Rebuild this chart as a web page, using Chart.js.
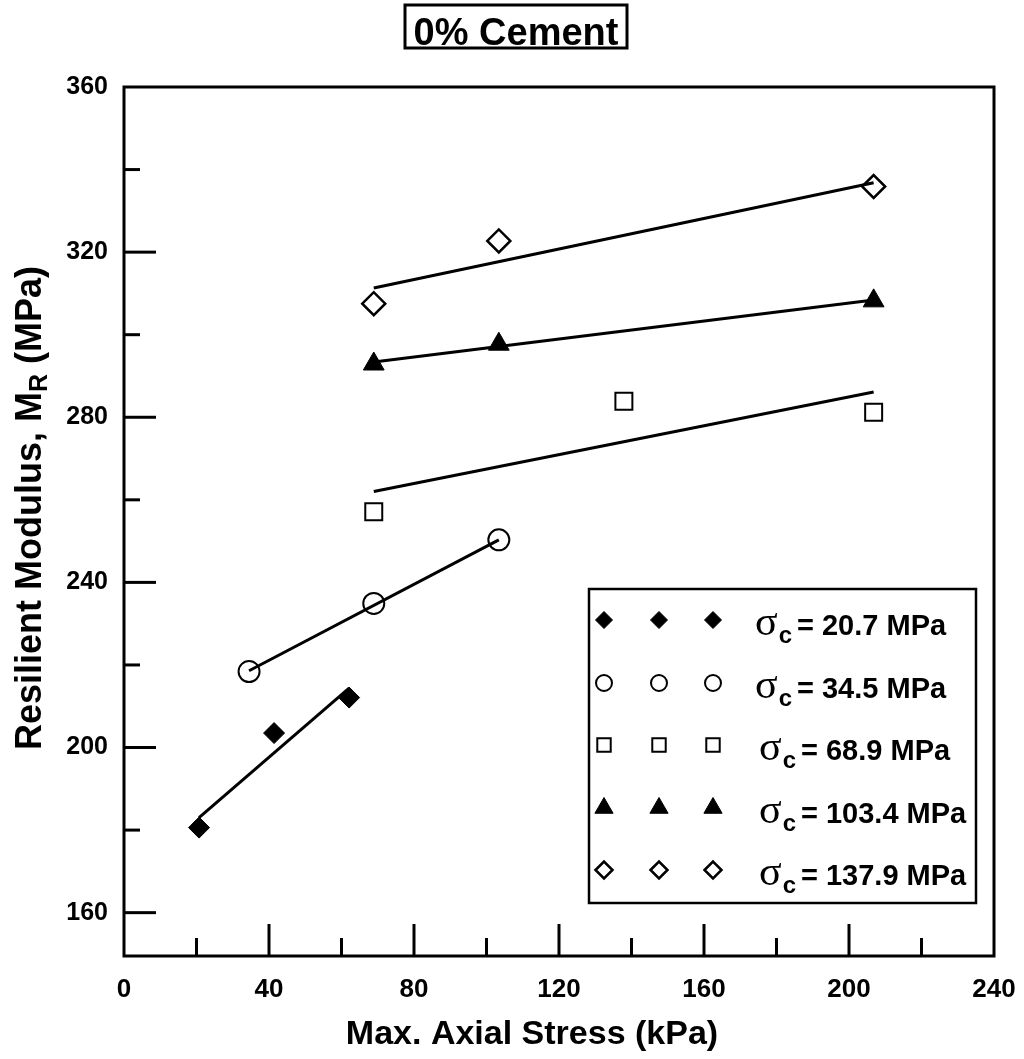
<!DOCTYPE html>
<html>
<head>
<meta charset="utf-8">
<script src="https://cdn.jsdelivr.net/npm/chart.js@4.4.0/dist/chart.umd.min.js"></script>
<style>
  html, body { margin: 0; padding: 0; background: #fff; }
  #wrap { width: 1024px; height: 1059px; position: relative; }
</style>
</head>
<body>
<div id="wrap"><canvas id="mrChart" width="1024" height="1059"></canvas></div>
<script>
// confining pressure of each test series (legend)
const confining = ['20.7', '34.5', '68.9', '103.4', '137.9'];

// measured points: max. axial stress (kPa) / resilient modulus (MPa)
const stress207 = [20.7, 41.4, 62.1];
const mr207 = [180.6, 203.5, 212.1];
const stress345 = [34.5, 68.9, 103.4];
const mr345 = [218.4, 234.9, 250.3];
const stress689 = [68.9, 137.9, 206.8];
const mr689 = [257.1, 283.9, 281.2];
const stress1034 = [68.9, 103.4, 206.8];
const mr1034 = [292.9, 297.7, 308.2];
const stress1379 = [68.9, 103.4, 206.8];
const mr1379 = [307.5, 322.7, 335.9];

// fitted lines (value at first / last stress)
const fit207 = [183.0, 214.4];
const fit345 = [218.6, 250.3];
const fit689 = [262.0, 286.1];
const fit1034 = [293.4, 308.4];
const fit1379 = [311.3, 336.8];

const xLabelStep = 40;
const yLabelStep = 40;

function pts(xs, ys) {
    return xs.map((x, i) => ({ x: x, y: ys[i] }));
}
function fitLine(xs, f) {
    return [{ x: xs[0], y: f[0] }, { x: xs[xs.length - 1], y: f[1] }];
}

const markerStyles = [
    { pointStyle: 'rectRot', radius: 10.5, legendRadius: 8.5, fill: '#000', border: 1 },
    { pointStyle: 'circle', radius: 10.5, legendRadius: 8, fill: 'rgba(0,0,0,0)', border: 2 },
    { pointStyle: 'rect', radius: 12, legendRadius: 9.5, fill: 'rgba(0,0,0,0)', border: 2 },
    { pointStyle: 'triangle', radius: 12, legendRadius: 10.5, fill: '#000', border: 1 },
    { pointStyle: 'rectRot', radius: 11.5, legendRadius: 8.5, fill: 'rgba(0,0,0,0)', border: 2.5 }
];

const series = [
    [stress207, mr207, fit207],
    [stress345, mr345, fit345],
    [stress689, mr689, fit689],
    [stress1034, mr1034, fit1034],
    [stress1379, mr1379, fit1379]
];

const datasets = [];
series.forEach(function (s, i) {
    datasets.push({
        type: 'line',
        label: 'fit ' + confining[i],
        data: fitLine(s[0], s[2]),
        borderColor: '#000',
        borderWidth: 3,
        pointRadius: 0,
        fill: false,
        order: 2
    });
});
series.forEach(function (s, i) {
    const m = markerStyles[i];
    datasets.push({
        type: 'scatter',
        label: '\u03c3c = ' + confining[i] + ' MPa',
        data: pts(s[0], s[1]),
        pointStyle: m.pointStyle,
        pointRadius: m.radius,
        pointHoverRadius: m.radius,
        pointBackgroundColor: m.fill,
        pointBorderColor: '#000',
        pointBorderWidth: m.border,
        order: 1
    });
});

const SANS = "'Liberation Sans', Arial, sans-serif";
const SERIF = "'Liberation Serif', 'Times New Roman', serif";

// frame, inward ticks, titles and legend box
const decorPlugin = {
    id: 'decor',
    afterDraw(chart) {
        const ctx = chart.ctx;
        const a = chart.chartArea;
        const xs = chart.scales.x;
        const ys = chart.scales.y;
        ctx.save();
        ctx.strokeStyle = '#000';
        ctx.lineWidth = 3;
        ctx.strokeRect(a.left, a.top, a.right - a.left, a.bottom - a.top);

        // tick marks pointing into the plot
        xs.ticks.forEach(function (t) {
            if (t.value % 20 !== 0 || t.value === 0 || t.value === 240) return;
            const px = xs.getPixelForValue(t.value);
            const len = t.value % xLabelStep === 0 ? 32 : 18;
            ctx.beginPath();
            ctx.moveTo(px, a.bottom);
            ctx.lineTo(px, a.bottom - len);
            ctx.stroke();
        });
        ys.ticks.forEach(function (t) {
            if (t.value % 20 !== 0 || t.value === 360) return;
            const py = ys.getPixelForValue(t.value);
            const len = t.value % yLabelStep === 0 ? 32 : 16;
            ctx.beginPath();
            ctx.moveTo(a.left, py);
            ctx.lineTo(a.left + len, py);
            ctx.stroke();
        });

        // title in a box
        ctx.fillStyle = '#000';
        ctx.font = 'bold 38px ' + SANS;
        ctx.textAlign = 'center';
        ctx.textBaseline = 'alphabetic';
        ctx.fillText('0% Cement', 516, 45);
        ctx.lineWidth = 3;
        ctx.strokeRect(405, 5, 222, 43);

        // x axis title
        ctx.font = 'bold 34px ' + SANS;
        ctx.fillText('Max. Axial Stress (kPa)', 532, 1044);

        // y axis title with subscript R
        ctx.save();
        ctx.translate(41, 508);
        ctx.rotate(-Math.PI / 2);
        ctx.textAlign = 'left';
        const p1 = 'Resilient Modulus, M';
        const p2 = 'R';
        const p3 = ' (MPa)';
        ctx.font = 'bold 36px ' + SANS;
        const w1 = ctx.measureText(p1).width;
        const w3 = ctx.measureText(p3).width;
        ctx.font = 'bold 25px ' + SANS;
        const w2 = ctx.measureText(p2).width;
        let x0 = -(w1 + w2 + w3) / 2;
        ctx.font = 'bold 36px ' + SANS;
        ctx.fillText(p1, x0, 0);
        ctx.font = 'bold 25px ' + SANS;
        ctx.fillText(p2, x0 + w1, 6);
        ctx.font = 'bold 36px ' + SANS;
        ctx.fillText(p3, x0 + w1 + w2, 0);
        ctx.restore();

        // legend
        const box = { left: 589, top: 589, right: 976, bottom: 903 };
        ctx.fillStyle = '#fff';
        ctx.fillRect(box.left, box.top, box.right - box.left, box.bottom - box.top);
        ctx.lineWidth = 2.5;
        ctx.strokeStyle = '#000';
        ctx.strokeRect(box.left, box.top, box.right - box.left, box.bottom - box.top);
        const rowY = [620, 683, 745, 808, 870];
        const colX = [604, 659, 713];
        const textX = [755, 755, 759, 759, 759];
        confining.forEach(function (c, i) {
            const m = markerStyles[i];
            colX.forEach(function (cx) {
                ctx.fillStyle = m.fill;
                ctx.strokeStyle = '#000';
                ctx.lineWidth = m.border;
                Chart.helpers.drawPoint(ctx, { pointStyle: m.pointStyle, radius: m.legendRadius, rotation: 0, borderWidth: m.border }, cx, rowY[i]);
            });
            const base = rowY[i] + 15;
            ctx.fillStyle = '#000';
            ctx.textAlign = 'left';
            ctx.font = '42px ' + SERIF;
            ctx.fillText('\u03c3', textX[i], base);
            let tx = textX[i] + ctx.measureText('\u03c3').width + 1;
            ctx.font = 'bold 24px ' + SANS;
            ctx.fillText('c', tx, base + 8);
            tx += ctx.measureText('c').width + 5;
            ctx.font = 'bold 29px ' + SANS;
            ctx.fillText('= ' + c + ' MPa', tx, base);
        });
        ctx.restore();
    }
};

new Chart(document.getElementById('mrChart'), {
    data: { datasets: datasets },
    options: {
        responsive: false,
        animation: false,
        events: [],
        layout: { padding: { top: 87, right: 30, left: 0, bottom: 0 } },
        plugins: {
            legend: { display: false },
            tooltip: { enabled: false },
            title: { display: false }
        },
        scales: {
            x: {
                type: 'linear',
                min: 0,
                max: 240,
                grid: { display: false, drawTicks: false },
                border: { display: false },
                ticks: {
                    stepSize: 20,
                    padding: 18,
                    color: '#000',
                    font: { family: SANS, weight: 'bold', size: 26 },
                    maxRotation: 0,
                    autoSkip: false,
                    callback: v => (v % xLabelStep === 0 ? v : '')
                },
                afterFit: s => { s.height = 103; s.paddingRight = 0; s.paddingLeft = 0; }
            },
            y: {
                type: 'linear',
                min: 149.5,
                max: 360,
                grid: { display: false, drawTicks: false },
                border: { display: false },
                ticks: {
                    stepSize: 20,
                    padding: 16,
                    color: '#000',
                    font: { family: SANS, weight: 'bold', size: 25 },
                    autoSkip: false,
                    callback: v => (v % yLabelStep === 0 ? v : '')
                },
                afterFit: s => { s.width = 124; s.paddingTop = 0; s.paddingBottom = 0; }
            }
        }
    },
    plugins: [decorPlugin]
});
</script>
</body>
</html>
